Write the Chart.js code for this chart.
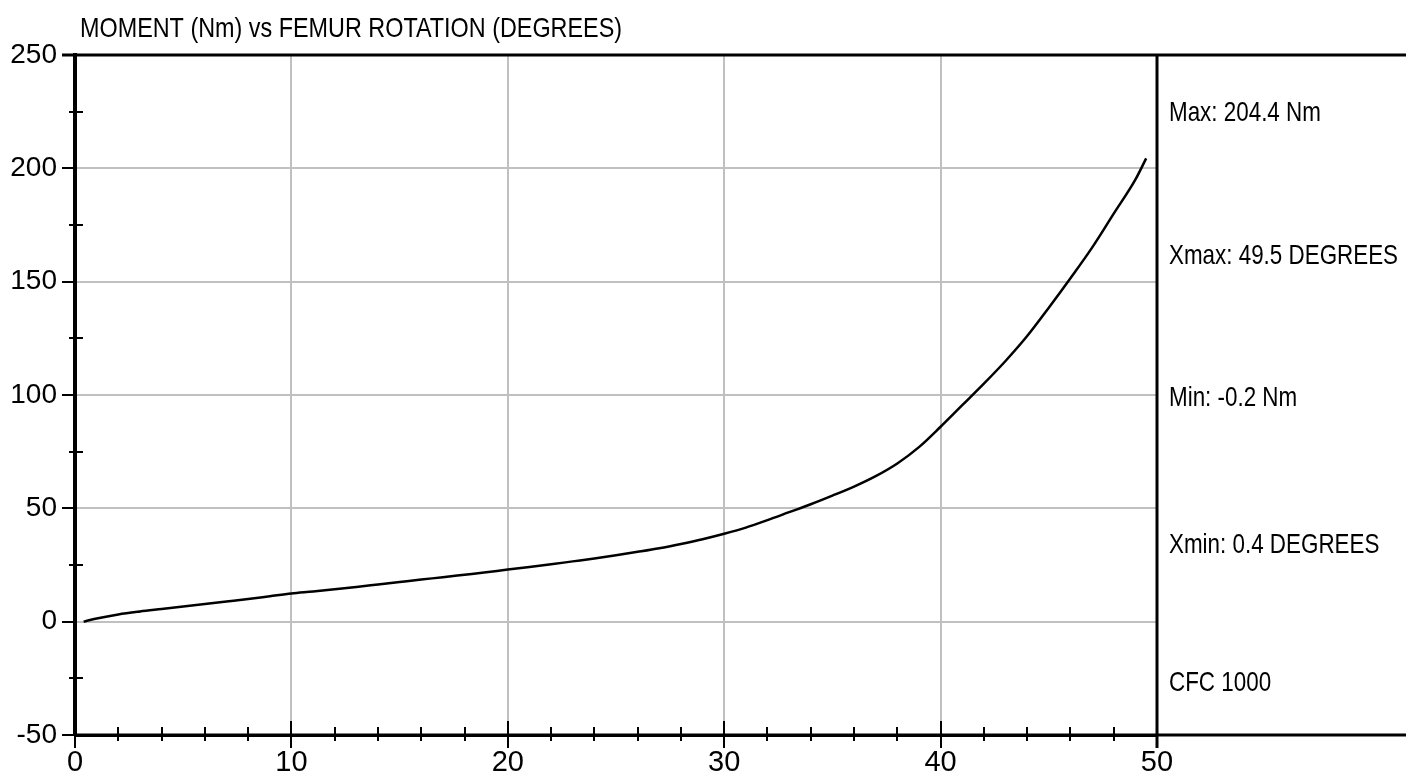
<!DOCTYPE html>
<html lang="en">
<head>
    <meta charset="UTF-8">
    <title>Moment vs Femur Rotation</title>
    <script src="https://cdn.jsdelivr.net/npm/chart.js"></script>
    <style>
        html, body { margin: 0; padding: 0; background: #fff; }
        canvas { display: block; }
    </style>
</head>
<body>
    <canvas id="momentChart" width="1406" height="783"></canvas>

    <script>
        // values
        const rotationDeg = [0.4, 1, 2, 3, 4, 5, 6, 7, 8, 9, 10, 11, 12, 13, 14, 15, 16, 17, 18, 19, 20,
            21, 22, 23, 24, 25, 26, 27, 28, 29, 30, 31, 32, 33, 34, 35, 36, 37, 38, 39, 40,
            41, 42, 43, 44, 45, 46, 47, 48, 49, 49.5];
        const momentNm = [0, 1.4, 3.2, 4.5, 5.6, 6.7, 7.8, 8.9, 10.0, 11.2, 12.4, 13.3, 14.3, 15.3, 16.4, 17.5, 18.6, 19.6, 20.7, 21.8, 23.0,
            24.1, 25.3, 26.6, 27.9, 29.3, 30.8, 32.4, 34.3, 36.4, 38.8, 41.5, 44.8, 48.3, 51.8, 55.6, 59.6, 64.2, 69.8, 77.0, 86.0,
            95.5, 105.0, 115.0, 126.0, 138.5, 151.5, 165.0, 180.0, 195.0, 204.4];

        const xTicks = [0, 10, 20, 30, 40, 50];
        const yTicks = [-50, 0, 50, 100, 150, 200, 250];
        const xMinorStep = 2;
        const yMinorStep = 25;

        const chartTitle = 'MOMENT (Nm) vs FEMUR ROTATION (DEGREES)';
        const statLabels = ['Max: 204.4 Nm', 'Xmax: 49.5 DEGREES', 'Min: -0.2 Nm', 'Xmin: 0.4 DEGREES', 'CFC 1000'];
        const statRows = [113, 256, 398, 545, 683];

        const textFont = '"Liberation Sans", Arial, sans-serif';

        // condensed text: no narrow face installed, so squeeze it horizontally
        function narrowText(ctx, txt, x, y, size, squeeze) {
            ctx.save();
            ctx.translate(x, y);
            ctx.scale(squeeze, 1);
            ctx.font = size + 'px ' + textFont;
            ctx.fillText(txt, 0, 0);
            ctx.restore();
        }

        // frame, minor ticks and side panel text
        const framePlugin = {
            id: 'frame',
            afterDraw(chart) {
                const ctx = chart.ctx;
                const xs = chart.scales.x;
                const ys = chart.scales.y;
                const area = chart.chartArea;
                const W = chart.width;
                ctx.save();
                ctx.strokeStyle = '#000';

                // top line and bottom line run to the right edge
                ctx.lineWidth = 3;
                ctx.beginPath();
                ctx.moveTo(area.left - 13, area.top);
                ctx.lineTo(W, area.top);
                ctx.moveTo(area.left, area.bottom);
                ctx.lineTo(W, area.bottom);
                ctx.stroke();

                // right border of the plot
                ctx.beginPath();
                ctx.moveTo(area.right, area.top);
                ctx.lineTo(area.right, area.bottom + 13);
                ctx.stroke();

                // minor ticks on x
                ctx.lineWidth = 2;
                ctx.beginPath();
                for (let v = xs.min; v <= xs.max; v += xMinorStep) {
                    if (v % 10 === 0) continue;
                    const px = Math.round(xs.getPixelForValue(v));
                    ctx.moveTo(px, area.bottom - 8);
                    ctx.lineTo(px, area.bottom + 6);
                }
                // major x ticks also go up into the plot
                xTicks.forEach(v => {
                    if (v === xs.min) return;
                    const px = Math.round(xs.getPixelForValue(v));
                    ctx.moveTo(px, area.bottom - 14);
                    ctx.lineTo(px, area.bottom);
                });
                // minor ticks on y
                for (let v = ys.min; v <= ys.max; v += yMinorStep) {
                    if (v % 50 === 0) continue;
                    const py = Math.round(ys.getPixelForValue(v));
                    ctx.moveTo(area.left - 6, py);
                    ctx.lineTo(area.left + 8, py);
                }
                ctx.stroke();

                // title and stats
                ctx.fillStyle = '#000';
                ctx.textAlign = 'left';
                ctx.textBaseline = 'alphabetic';
                narrowText(ctx, chartTitle, 80, 37, 28, 0.835);

                ctx.textBaseline = 'middle';
                statLabels.forEach((txt, i) => {
                    narrowText(ctx, txt, area.right + 12, statRows[i], 28, 0.8);
                });
                ctx.restore();
            }
        };

        function plotMoment() {
            const ctx = document.getElementById('momentChart').getContext('2d');
            const points = rotationDeg.map((x, i) => ({ x: x, y: momentNm[i] }));

            new Chart(ctx, {
                type: 'scatter',
                data: {
                    datasets: [{
                        data: points,
                        showLine: true,
                        borderColor: '#000',
                        borderWidth: 2.5,
                        pointRadius: 0,
                        cubicInterpolationMode: 'monotone',
                        fill: false
                    }]
                },
                options: {
                    responsive: false,
                    animation: false,
                    devicePixelRatio: 1,
                    layout: { padding: { left: 0, top: 55, right: 249, bottom: 0 } },
                    plugins: {
                        legend: { display: false },
                        tooltip: { enabled: false }
                    },
                    scales: {
                        x: {
                            type: 'linear',
                            min: 0,
                            max: 50,
                            afterFit: s => { s.height = 48; },
                            afterBuildTicks: s => { s.ticks = xTicks.map(v => ({ value: v })); },
                            ticks: {
                                color: '#000',
                                font: { family: textFont, size: 29 },
                                padding: -2,
                                maxRotation: 0
                            },
                            grid: {
                                color: c => (c.tick && (c.tick.value === 0 || c.tick.value === 50)) ? 'rgba(0,0,0,0)' : '#c0c0c0',
                                lineWidth: 2,
                                tickColor: '#000',
                                tickWidth: 2,
                                tickLength: 13
                            },
                            border: { color: '#000', width: 3 }
                        },
                        y: {
                            type: 'linear',
                            min: -50,
                            max: 250,
                            afterFit: s => { s.width = 75; },
                            afterBuildTicks: s => { s.ticks = yTicks.map(v => ({ value: v })); },
                            ticks: {
                                color: '#000',
                                font: { family: textFont, size: 28 },
                                padding: 5
                            },
                            grid: {
                                color: c => (c.tick && (c.tick.value === -50 || c.tick.value === 250)) ? 'rgba(0,0,0,0)' : '#c0c0c0',
                                lineWidth: 2,
                                tickColor: '#000',
                                tickWidth: 2,
                                tickLength: 13
                            },
                            border: { color: '#000', width: 4 }
                        }
                    }
                },
                plugins: [framePlugin]
            });
        }

        plotMoment();
    </script>
</body>
</html>
